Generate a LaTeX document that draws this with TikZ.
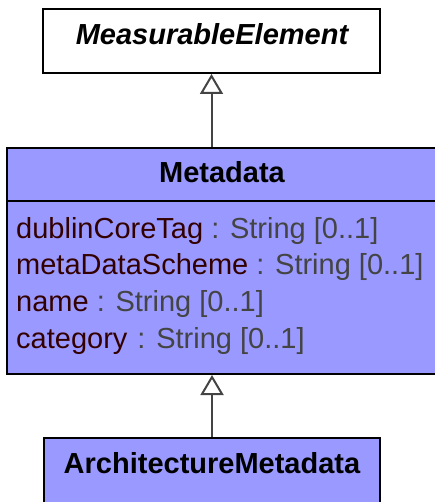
\documentclass[tikz,border=0pt]{standalone}
\usepackage{fontspec}
\setmainfont{Liberation Sans}
\usetikzlibrary{arrows.meta}
\definecolor{clsfill}{HTML}{9999FF}
\definecolor{attrname}{HTML}{330000}
\definecolor{attrtype}{HTML}{444444}
\definecolor{linegrey}{HTML}{444444}
\tikzset{
  clsbox/.style={draw=black, line width=2pt, rectangle, inner sep=0pt},
  gen/.style={draw=linegrey, line width=2pt, -{Triangle[open, length=20pt, width=23pt, line width=2pt, fill=white]}},
  title/.style={font=\fontsize{29}{35}\selectfont\bfseries, anchor=base},
  attr/.style={font=\fontsize{29}{35}\selectfont, anchor=base west, inner sep=0pt}
}
\newcommand{\attrline}[2]{\textcolor{attrname}{#1}\textcolor{attrtype}{\ #2: String [0..1]}}
\begin{document}
\begin{tikzpicture}[x=1pt,y=-1pt]
\useasboundingbox (0,0) rectangle (435,502);
\clip (0,0) rectangle (435,502);
\node[clsbox, fill=white, minimum width=337pt, minimum height=64pt] (me) at (211.5,41) {};
\node[title, font=\fontsize{29}{35}\selectfont\bfseries\itshape] (met) at (212,45) {MeasurableElement};
\node[clsbox, fill=clsfill, minimum width=430pt, minimum height=226pt] (md) at (222,261) {};
\draw[black, line width=2pt] (7,201) -- (437,201);
\node[title] (mdt) at (222,183) {Metadata};
\node[attr] (a1) at (16,238) {\attrline{dublinCoreTag}{}};
\node[attr] (a2) at (16,274) {\attrline{metaDataScheme}{}};
\node[attr] (a3) at (16,311) {\attrline{name}{}};
\node[attr] (a4) at (16,348) {\attrline{category}{\kern2pt}};
\node[clsbox, fill=clsfill, minimum width=336pt, minimum height=80pt] (am) at (212,478) {};
\node[title] (amt) at (212,473) {ArchitectureMetadata};
\draw[gen] (me.south |- md.north) -- (me.south);
\draw[gen] (am.north) -- (am.north |- md.south);
\end{tikzpicture}
\end{document}
